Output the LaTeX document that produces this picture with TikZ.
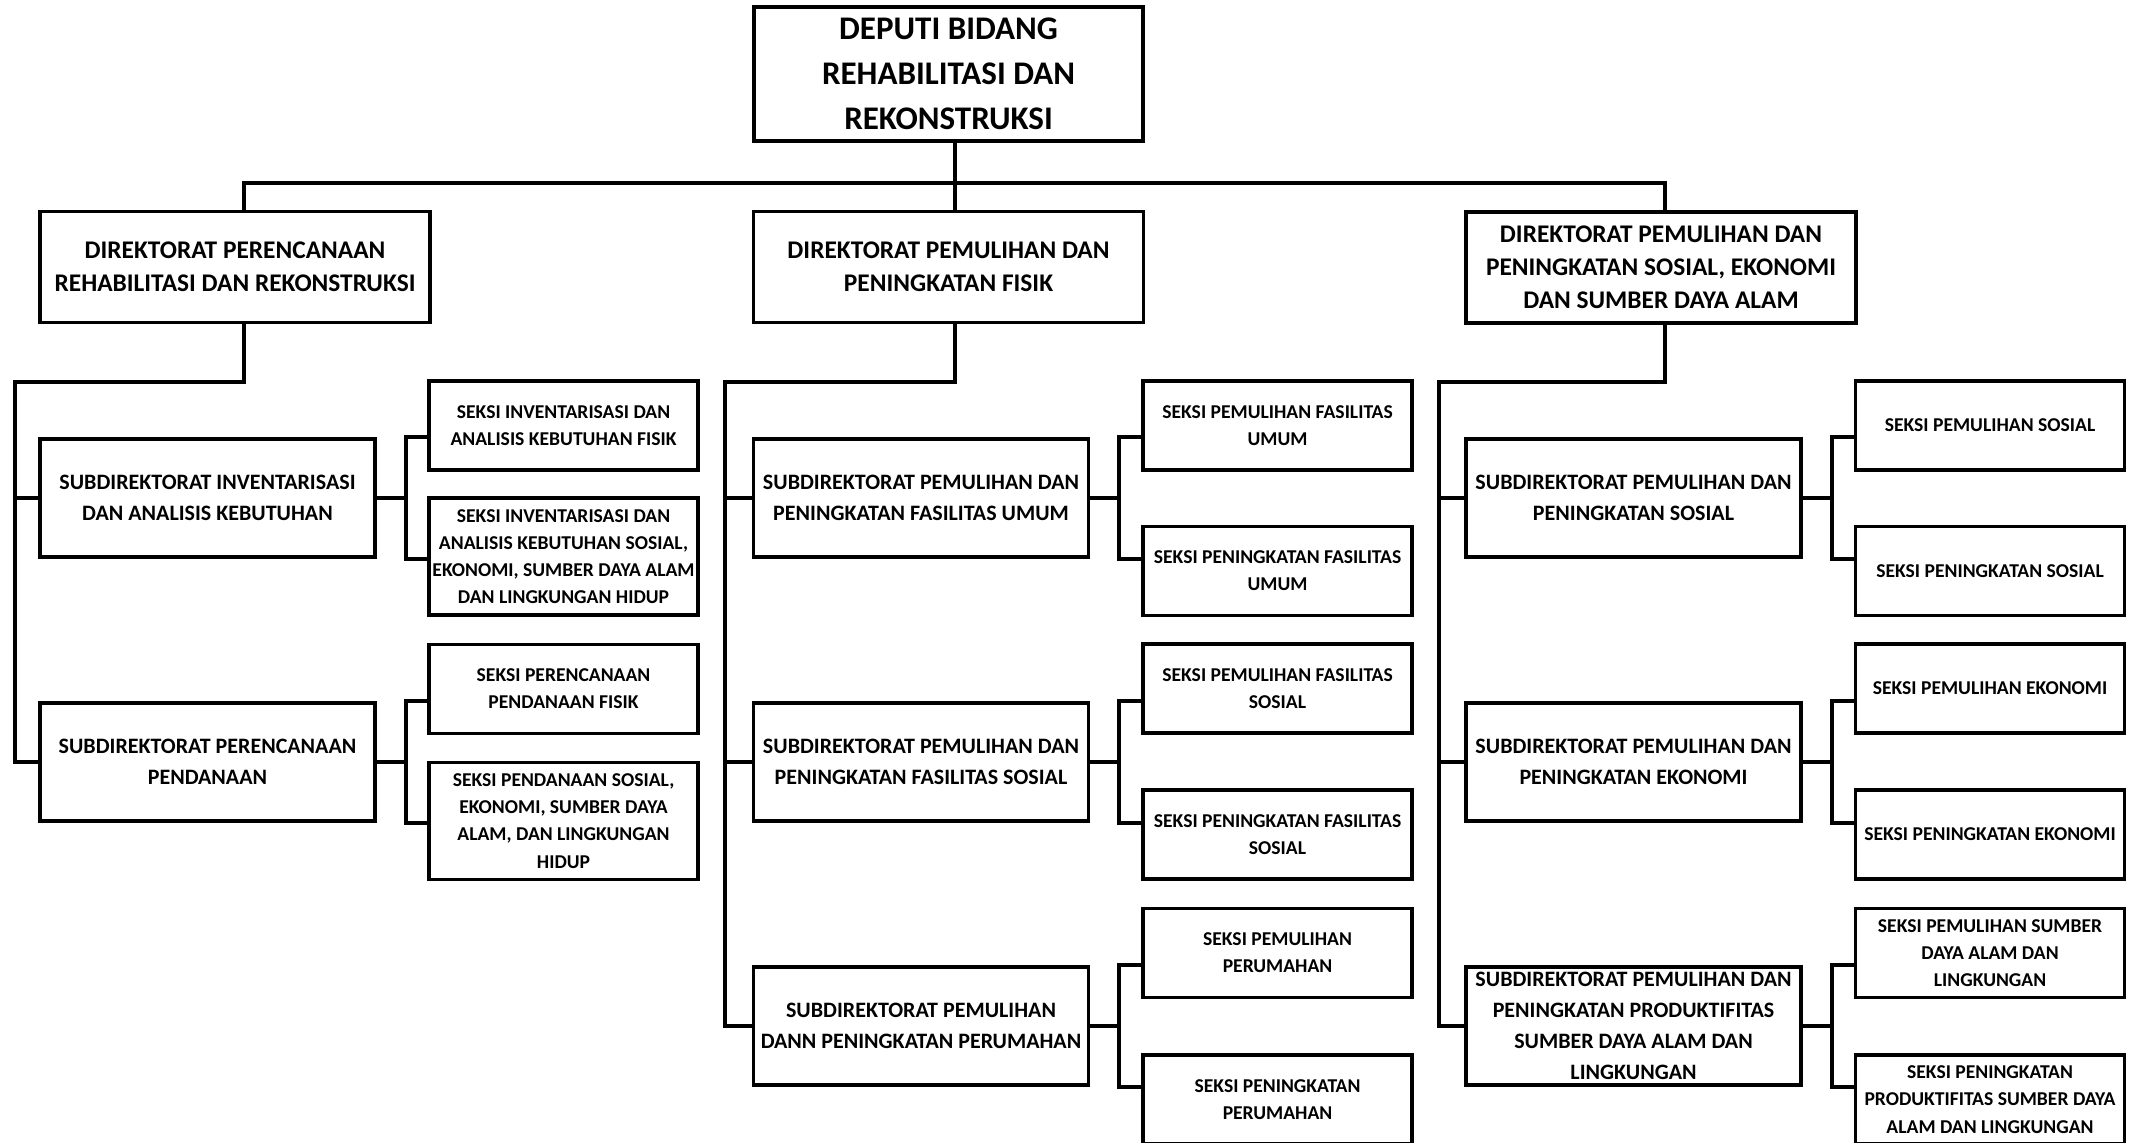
\documentclass[tikz,border=0pt]{standalone}
\usepackage{fontspec}
\setmainfont{Carlito}
\usepackage{tikz}

\begin{document}
\begin{tikzpicture}[x=0.5pt,y=-0.5pt]
  \tikzstyle{unit}=[draw,line width=1.6pt,align=center,inner sep=0pt]
  \tikzstyle{deputi}=[unit,minimum width=194.5pt,minimum height=67pt,font=\fontsize{16.5}{22.5}\selectfont\bfseries]
  \tikzstyle{dirbox}=[unit,minimum width=195pt,minimum height=55.5pt,font=\fontsize{12.7}{16.4}\selectfont\bfseries]
  \tikzstyle{subbox}=[unit,minimum width=167.5pt,minimum height=59pt,font=\fontsize{11}{15.5}\selectfont\bfseries]
  \tikzstyle{seksi}=[unit,minimum width=134.5pt,minimum height=44.5pt,font=\fontsize{9.8}{13.6}\selectfont\bfseries]
  \tikzstyle{seksitall}=[seksi,minimum height=58.5pt]
  \tikzstyle{link}=[line width=2pt]
  \useasboundingbox (0,0) rectangle (2139,1142);

  \node[deputi] (dep) at (948.5,74) {DEPUTI BIDANG\\REHABILITASI DAN\\REKONSTRUKSI};
  \node[dirbox] (dir1) at (235,267) {DIREKTORAT PERENCANAAN\\REHABILITASI DAN REKONSTRUKSI};
  \node[dirbox] (dir2) at (948.5,267) {DIREKTORAT PEMULIHAN DAN\\PENINGKATAN FISIK};
  \node[dirbox] (dir3) at (1661,267.5) {DIREKTORAT PEMULIHAN DAN\\PENINGKATAN SOSIAL, EKONOMI\\DAN SUMBER DAYA ALAM};

  % subdirektorat
  \node[subbox] (sub1a) at (207.5,498) {SUBDIREKTORAT INVENTARISASI\\DAN ANALISIS KEBUTUHAN};
  \node[subbox] (sub1b) at (207.5,762) {SUBDIREKTORAT PERENCANAAN\\PENDANAAN};
  \node[subbox] (sub2a) at (921,498) {SUBDIREKTORAT PEMULIHAN DAN\\PENINGKATAN FASILITAS UMUM};
  \node[subbox] (sub2b) at (921,762) {SUBDIREKTORAT PEMULIHAN DAN\\PENINGKATAN FASILITAS SOSIAL};
  \node[subbox] (sub2c) at (921,1026) {SUBDIREKTORAT PEMULIHAN\\DANN PENINGKATAN PERUMAHAN};
  \node[subbox] (sub3a) at (1633.5,498) {SUBDIREKTORAT PEMULIHAN DAN\\PENINGKATAN SOSIAL};
  \node[subbox] (sub3b) at (1633.5,762) {SUBDIREKTORAT PEMULIHAN DAN\\PENINGKATAN EKONOMI};
  \node[subbox] (sub3c) at (1633.5,1026) {SUBDIREKTORAT PEMULIHAN DAN\\PENINGKATAN PRODUKTIFITAS\\SUMBER DAYA ALAM DAN\\LINGKUNGAN};

  % seksi
  \node[seksi] (s1a) at (563.5,425.5) {SEKSI INVENTARISASI DAN\\ANALISIS KEBUTUHAN FISIK};
  \node[seksitall] (s1b) at (563.5,556.5) {SEKSI INVENTARISASI DAN\\ANALISIS KEBUTUHAN SOSIAL,\\EKONOMI, SUMBER DAYA ALAM\\DAN LINGKUNGAN HIDUP};
  \node[seksi] (s1c) at (563.5,689) {SEKSI PERENCANAAN\\PENDANAAN FISIK};
  \node[seksitall] (s1d) at (563.5,821) {SEKSI PENDANAAN SOSIAL,\\EKONOMI, SUMBER DAYA\\ALAM, DAN LINGKUNGAN\\HIDUP};
  \node[seksi] (s2a) at (1277.5,425.5) {SEKSI PEMULIHAN FASILITAS\\UMUM};
  \node[seksi] (s2b) at (1277.5,571) {SEKSI PENINGKATAN FASILITAS\\UMUM};
  \node[seksi] (s2c) at (1277.5,688.5) {SEKSI PEMULIHAN FASILITAS\\SOSIAL};
  \node[seksi] (s2d) at (1277.5,834.5) {SEKSI PENINGKATAN FASILITAS\\SOSIAL};
  \node[seksi] (s2e) at (1277.5,953) {SEKSI PEMULIHAN\\PERUMAHAN};
  \node[seksi] (s2f) at (1277.5,1099.5) {SEKSI PENINGKATAN\\PERUMAHAN};
  \node[seksi] (s3a) at (1990,425.5) {SEKSI PEMULIHAN SOSIAL};
  \node[seksi] (s3b) at (1990,571) {SEKSI PENINGKATAN SOSIAL};
  \node[seksi] (s3c) at (1990,688.5) {SEKSI PEMULIHAN EKONOMI};
  \node[seksi] (s3d) at (1990,834.5) {SEKSI PENINGKATAN EKONOMI};
  \node[seksi] (s3e) at (1990,953) {SEKSI PEMULIHAN SUMBER\\DAYA ALAM DAN\\LINGKUNGAN};
  \node[seksi] (s3f) at (1990,1099.5) {SEKSI PENINGKATAN\\PRODUKTIFITAS SUMBER DAYA\\ALAM DAN LINGKUNGAN};

  % top bus
  \coordinate (bus) at (955,183);
  \draw[link] ([xshift=3.25pt]dep.south) -- ([xshift=3.25pt]dir2.north);
  \draw[link] ([xshift=4.5pt]dir1.north) |- (bus) -| ([xshift=2pt]dir3.north);

  % spines down to the subdirektorat
  \coordinate (k1) at (15,382);
  \coordinate (k2) at (725,382);
  \coordinate (k3) at (1439,382);
  \draw[link] ([xshift=4.5pt]dir1.south) |- (k1) |- (sub1b.west);
  \draw[link] (k1 |- sub1a.west) -- (sub1a.west);
  \draw[link] ([xshift=3.25pt]dir2.south) |- (k2) |- (sub2c.west);
  \draw[link] (k2 |- sub2a.west) -- (sub2a.west);
  \draw[link] (k2 |- sub2b.west) -- (sub2b.west);
  \draw[link] ([xshift=2pt]dir3.south) |- (k3) |- (sub3c.west);
  \draw[link] (k3 |- sub3a.west) -- (sub3a.west);
  \draw[link] (k3 |- sub3b.west) -- (sub3b.west);

  % brackets to the seksi
  \foreach \s/\a/\b in {sub1a/s1a/s1b,sub1b/s1c/s1d,sub2a/s2a/s2b,sub2b/s2c/s2d,sub2c/s2e/s2f,sub3a/s3a/s3b,sub3b/s3c/s3d,sub3c/s3e/s3f}{
    \draw[link] (\s.east) -- ([xshift=14.5pt]\s.east);
    \draw[link] (\a.west |- \s.north) -| ([xshift=14.5pt]\s.south east) -- (\b.west |- \s.south);
  }
\end{tikzpicture}
\end{document}
